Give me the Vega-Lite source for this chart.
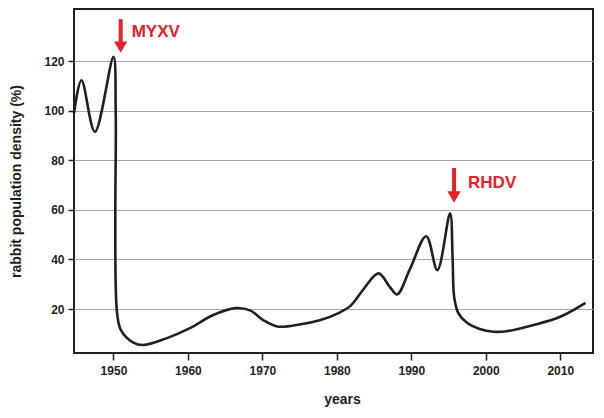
{
  "$schema": "https://vega.github.io/schema/vega-lite/v6.json",
  "autosize": "none",
  "width": 519,
  "height": 344,
  "padding": {"left": 74, "top": 9, "right": 11, "bottom": 65},
  "background": "white",
  "config": {
    "view": {"stroke": "#231f20", "strokeWidth": 2},
    "font": "Liberation Sans"
  },
  "datasets": {
    "curve": [
      {"year": 1944.7, "density": 99},
      {"year": 1945.7, "density": 112.3},
      {"year": 1947.5, "density": 91.5},
      {"year": 1950.0, "density": 121.7},
      {"year": 1950.3, "density": 100},
      {"year": 1950.25, "density": 60},
      {"year": 1950.3, "density": 30},
      {"year": 1950.5, "density": 18},
      {"year": 1951.0, "density": 11.5},
      {"year": 1952.6, "density": 6.6},
      {"year": 1954.0, "density": 5.5},
      {"year": 1957.1, "density": 8.2},
      {"year": 1960.2, "density": 12.2},
      {"year": 1963.4, "density": 17.6},
      {"year": 1966.4, "density": 20.4},
      {"year": 1968.4, "density": 19.4},
      {"year": 1970.1, "density": 15.6},
      {"year": 1972.0, "density": 13.0},
      {"year": 1975.0, "density": 13.8},
      {"year": 1977.7, "density": 15.5},
      {"year": 1980.3, "density": 18.5},
      {"year": 1981.9, "density": 21.5},
      {"year": 1983.5, "density": 27.7},
      {"year": 1985.6, "density": 34.4},
      {"year": 1987.1, "density": 29},
      {"year": 1988.1, "density": 25.9},
      {"year": 1989.8, "density": 36},
      {"year": 1992.0, "density": 49.4},
      {"year": 1993.5, "density": 35.7},
      {"year": 1995.2, "density": 58.6},
      {"year": 1995.55, "density": 40},
      {"year": 1995.75, "density": 25},
      {"year": 1996.3, "density": 18.5},
      {"year": 1997.4, "density": 14.7},
      {"year": 1999.2, "density": 12.0},
      {"year": 2001.0, "density": 10.9},
      {"year": 2002.8, "density": 11.1},
      {"year": 2006.3, "density": 13.5},
      {"year": 2010.0, "density": 16.9},
      {"year": 2013.4, "density": 22.5}
    ],
    "arrows": [
      {"label": "MYXV", "year": 1950.97, "top": 136.9, "head": 125.6, "textYear": 1952.44, "textY": 131.7},
      {"label": "RHDV", "year": 1995.74, "top": 76.9, "head": 65.2, "textYear": 1997.62, "textY": 70.7}
    ]
  },
  "layer": [
    {
      "data": {"name": "curve"},
      "mark": {"type": "line", "interpolate": "catmull-rom", "color": "#231f20", "strokeWidth": 2.6},
      "encoding": {
        "order": {"value": null},
        "x": {
          "field": "year", "type": "quantitative",
          "scale": {"domain": [1944.7, 2014.4], "nice": false, "zero": false},
          "axis": {
            "values": [1950, 1960, 1970, 1980, 1990, 2000, 2010],
            "format": "d",
            "title": "years",
            "titleFont": "Liberation Sans", "titleFontSize": 14, "titleFontWeight": "bold", "titleColor": "#231f20",
            "titleX": 268, "titleY": 39, "titleBaseline": "top",
            "labelFont": "Liberation Sans", "labelFontSize": 12, "labelFontWeight": "bold", "labelColor": "#231f20",
            "labelPadding": 5,
            "domain": false, "grid": false,
            "ticks": true, "tickColor": "#231f20", "tickSize": 7, "tickWidth": 1.5
          }
        },
        "y": {
          "field": "density", "type": "quantitative",
          "scale": {"domain": [2.3, 141], "nice": false, "zero": false},
          "axis": {
            "values": [20, 40, 60, 80, 100, 120],
            "title": "rabbit population density (%)",
            "titleFont": "Liberation Sans", "titleFontSize": 14, "titleFontWeight": "bold", "titleColor": "#231f20",
            "titleX": -58, "titleY": 172, "titleBaseline": "middle", "titleAlign": "center", "titleAngle": 270,
            "labelFont": "Liberation Sans", "labelFontSize": 12, "labelFontWeight": "bold", "labelColor": "#231f20",
            "labelPadding": 4,
            "domain": false,
            "grid": true, "gridColor": "#a6a6a6", "gridWidth": 1.2,
            "ticks": true, "tickColor": "#231f20", "tickSize": 6, "tickWidth": 1.5
          }
        }
      }
    },
    {
      "data": {"name": "arrows"},
      "mark": {"type": "rule", "color": "#e8202a", "strokeWidth": 4},
      "encoding": {
        "x": {"field": "year", "type": "quantitative"},
        "y": {"field": "top", "type": "quantitative"},
        "y2": {"field": "head"}
      }
    },
    {
      "data": {"name": "arrows"},
      "mark": {"type": "point", "shape": "M-1,-0.85L1,-0.85L0,0.85Z", "filled": true, "color": "#e8202a", "opacity": 1, "size": 177, "strokeWidth": 0},
      "encoding": {
        "x": {"field": "year", "type": "quantitative"},
        "y": {"field": "head", "type": "quantitative"}
      }
    },
    {
      "data": {"name": "arrows"},
      "mark": {"type": "text", "align": "left", "baseline": "middle", "font": "Liberation Sans", "fontSize": 17, "fontWeight": "bold", "color": "#e8202a"},
      "encoding": {
        "x": {"field": "textYear", "type": "quantitative"},
        "y": {"field": "textY", "type": "quantitative"},
        "text": {"field": "label"}
      }
    }
  ]
}
